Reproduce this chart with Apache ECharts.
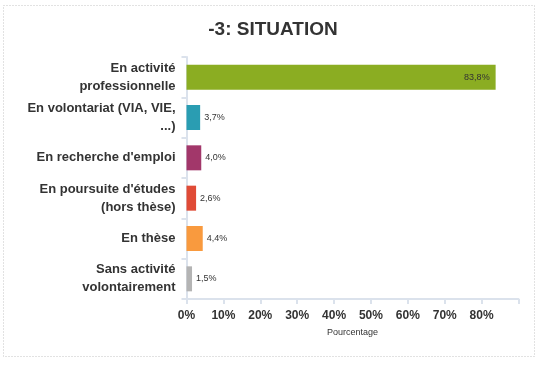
<!DOCTYPE html>
<html>
<head>
<meta charset="utf-8">
<script src="https://cdn.jsdelivr.net/npm/echarts@6/dist/echarts.min.js"></script>
<style>
html,body{margin:0;padding:0;background:#fff;}
#c{width:548px;height:368px;}
</style>
</head>
<body>
<div id="c"></div>
<script>
const titleText = "-3: SITUATION";
const categories = [
  "En activité\nprofessionnelle",
  "En volontariat (VIA, VIE,\n...)",
  "En recherche d'emploi",
  "En poursuite d'études\n(hors thèse)",
  "En thèse",
  "Sans activité\nvolontairement"
];
const values = [83.8, 3.7, 4.0, 2.6, 4.4, 1.5];
const barColors = ["#8bad22", "#2a9db2", "#a2376a", "#e04b36", "#f99a3e", "#b4b4b4"];
const xTicks = [0, 10, 20, 30, 40, 50, 60, 70, 80];
const axisName = "Pourcentage";

const FONT = "'Liberation Sans', Arial, sans-serif";
const fmt = v => v.toFixed(1).replace('.', ',') + '%';

const chart = echarts.init(document.getElementById('c'), null, {renderer: 'canvas'});
chart.setOption({
  animation: false,
  backgroundColor: '#fff',
  textStyle: {fontFamily: FONT},
  title: {
    text: titleText,
    left: 268,
    textAlign: 'center',
    top: 15,
    textStyle: {fontFamily: FONT, fontSize: 19, fontWeight: 'bold', color: '#333'}
  },
  graphic: [{
    type: 'rect',
    shape: {x: 3.5, y: 5.5, width: 531, height: 351},
    style: {fill: 'none', stroke: '#c4c4c4', lineWidth: 1, lineDash: [1, 2]},
    silent: true
  }],
  grid: {left: 186.5, right: 29.5, top: 57, bottom: 69, containLabel: false},
  xAxis: {
    type: 'value',
    min: 0, max: 90, interval: 10,
    name: axisName,
    nameLocation: 'middle',
    nameGap: 29,
    nameTextStyle: {fontFamily: FONT, fontSize: 9, color: '#333'},
    axisLine: {show: true, lineStyle: {color: '#dbe2ec', width: 2}},
    axisTick: {show: true, length: 5, lineStyle: {color: '#dbe2ec', width: 2}},
    splitLine: {show: false},
    axisLabel: {
      fontFamily: FONT, fontSize: 12, fontWeight: 'bold', color: '#333', margin: 11,
      formatter: v => xTicks.indexOf(v) >= 0 ? v + '%' : ''
    }
  },
  yAxis: {
    type: 'category',
    inverse: true,
    data: categories,
    axisLine: {show: true, lineStyle: {color: '#dbe2ec', width: 2}},
    axisTick: {show: true, length: 5, lineStyle: {color: '#dbe2ec', width: 2}},
    splitLine: {show: false},
    axisLabel: {
      fontFamily: FONT, fontSize: 13, fontWeight: 'bold', color: '#333',
      margin: 11, lineHeight: 18, align: 'right', interval: 0
    }
  },
  series: [{
    type: 'bar',
    barWidth: 25,
    data: values.map((v, i) => ({
      value: v,
      itemStyle: {color: barColors[i]},
      label: v > 50 ? {position: 'insideRight', distance: 6} : {position: 'right', distance: 4}
    })),
    label: {
      show: true,
      fontFamily: FONT,
      fontSize: 9,
      color: '#333',
      formatter: p => fmt(p.value)
    }
  }]
});
</script>
</body>
</html>
